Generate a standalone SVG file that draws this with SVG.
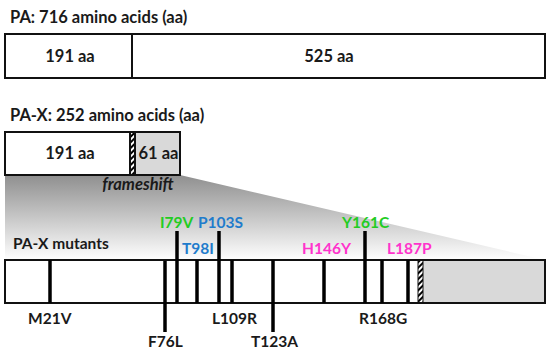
<svg xmlns="http://www.w3.org/2000/svg" width="550" height="353" viewBox="0 0 550 353">
<style>
text{font-family:Lato,"Open Sans","Liberation Sans",sans-serif;font-weight:bold;fill:#1a1a1a;font-size:16.5px}
.box{fill:#fff;stroke:#111;stroke-width:2}
.gray{fill:#d9d9d9;stroke:none}
.bar{stroke:#000;stroke-width:3.5;fill:none}
.sep{stroke:#111;stroke-width:2}
.g{fill:#22cc22}
.b{fill:#1f7ccc}
.p{fill:#ff33cc}
.m{font-size:15.5px}
</style>
<defs>
<pattern id="hatch" patternUnits="userSpaceOnUse" width="4" height="4" patternTransform="rotate(45)">
<rect width="4" height="4" fill="#fff"/>
<rect width="2" height="4" fill="#000"/>
</pattern>
<linearGradient id="fade" x1="0" y1="0" x2="0" y2="1">
<stop offset="0" stop-color="#8f8f8f"/>
<stop offset="1" stop-color="#ffffff"/>
</linearGradient>
</defs>

<g id="pa">
<text x="10" y="23">PA: 716 amino acids (aa)</text>
<rect class="box" x="5" y="34" width="540" height="44"/>
<line class="sep" x1="132" y1="34" x2="132" y2="78"/>
<text x="70" y="62" text-anchor="middle">191 aa</text>
<text x="329" y="62" text-anchor="middle">525 aa</text>
</g>

<g id="zoom-fade">
<polygon points="5,175 180,175 545,260 5,260" fill="url(#fade)"/>
</g>

<g id="pax">
<text x="10" y="121">PA-X: 252 amino acids (aa)</text>
<rect class="box" x="5" y="132" width="175" height="43"/>
<rect class="gray" x="135" y="133" width="44" height="41"/>
<rect x="130" y="133" width="5" height="41" fill="url(#hatch)"/>
<line class="sep" x1="130" y1="132" x2="130" y2="175" stroke-width="1"/>
<line class="sep" x1="135" y1="132" x2="135" y2="175" stroke-width="1"/>
<rect x="5" y="132" width="175" height="43" fill="none" stroke="#111" stroke-width="2"/>
<text x="70" y="159" text-anchor="middle">191 aa</text>
<text x="158.5" y="159" text-anchor="middle" font-size="16">61 aa</text>
<text x="138" y="190" text-anchor="middle" font-style="italic" font-size="13">frameshift</text>
</g>

<g id="mutants">
<text x="13" y="249" class="m">PA-X mutants</text>
<rect class="box" x="5" y="260" width="540" height="43"/>
<rect class="gray" x="423" y="261" width="121" height="41"/>
<rect x="418" y="261" width="5" height="41" fill="url(#hatch)"/>
<line x1="418" y1="260" x2="418" y2="303" stroke="#111" stroke-width="1"/>
<line x1="423" y1="260" x2="423" y2="303" stroke="#111" stroke-width="1"/>
<rect x="5" y="260" width="540" height="43" fill="none" stroke="#111" stroke-width="2"/>
</g>

<g id="connectors">
<line class="bar" x1="50" y1="260" x2="50" y2="303"/>
<line class="bar" x1="165" y1="261" x2="165" y2="332"/>
<line class="bar" x1="177" y1="231" x2="177" y2="303"/>
<line class="bar" x1="197" y1="260" x2="197" y2="303"/>
<line class="bar" x1="219" y1="231" x2="219" y2="303"/>
<line class="bar" x1="232" y1="260" x2="232" y2="303"/>
<line class="bar" x1="273" y1="260" x2="273" y2="332"/>
<line class="bar" x1="324" y1="260" x2="324" y2="303"/>
<line class="bar" x1="365" y1="231" x2="365" y2="303"/>
<line class="bar" x1="382" y1="260" x2="382" y2="303"/>
<line class="bar" x1="408" y1="260" x2="408" y2="303"/>
</g>

<g id="labels">
<text x="160" y="228" class="m g">I79V</text>
<text x="198" y="228" class="m b">P103S</text>
<text x="182" y="254" class="m b">T98I</text>
<text x="302" y="254" class="m p">H146Y</text>
<text x="342" y="228" class="m g">Y161C</text>
<text x="387" y="254" class="m p">L187P</text>
<text x="28" y="324" class="m">M21V</text>
<text x="212" y="324" class="m">L109R</text>
<text x="359" y="324" class="m">R168G</text>
<text x="148" y="347" class="m">F76L</text>
<text x="251" y="347" class="m">T123A</text>
</g>
</svg>
